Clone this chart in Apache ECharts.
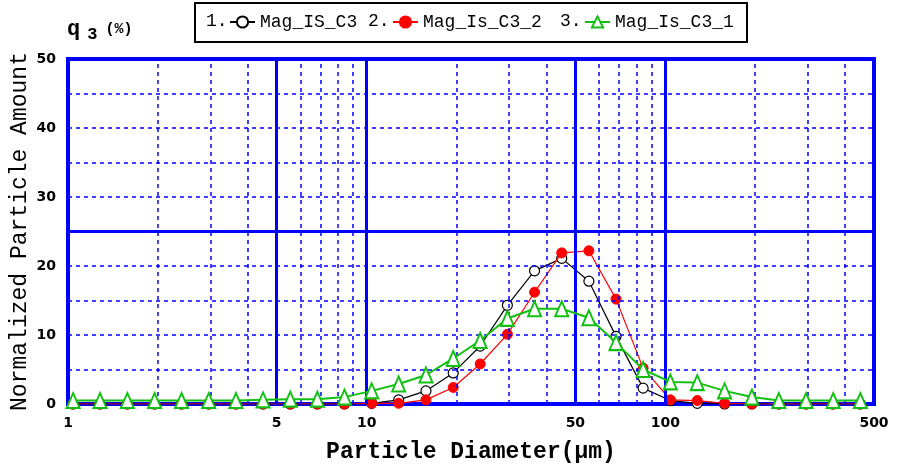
<!DOCTYPE html>
<html><head><meta charset="utf-8">
<script src="https://cdn.jsdelivr.net/npm/echarts@6/dist/echarts.min.js"></script>
<style>html,body{margin:0;padding:0;background:#fff}#c{width:899px;height:470px}</style>
</head><body><div id="c"></div>
<script>
// Particle diameter classes (µm)
const diameters = [1.04,1.28,1.58,1.95,2.40,2.96,3.65,4.50,5.55,6.84,8.43,10.4,12.8,15.8,19.5,24.0,29.6,36.5,45.0,55.5,68.4,84.3,104,128,158,195,240,296,365,450];
// Normalized particle amount q3 (%)
const magIS_C3   = [0,0,0,0,0,0,0,0,0,0,0,0.1,0.6,1.9,4.5,8.4,14.3,19.3,21.1,17.8,9.8,2.3,0.5,0.1,0,0,0,0,0,0];
const magIs_C3_2 = [0,0,0,0,0,0,0,0,0,0,0,0.1,0.1,0.6,2.4,5.8,10.1,16.2,21.9,22.2,15.2,5.2,0.6,0.5,0.1,0,0,0,0,0];
const magIs_C3_1 = [0.5,0.5,0.5,0.5,0.5,0.5,0.5,0.6,0.7,0.7,1.0,1.9,2.9,4.2,6.6,9.2,12.4,13.8,13.8,12.5,8.9,5.0,3.2,3.1,1.9,1.0,0.5,0.5,0.5,0.5];
const seriesNames = ['Mag_IS_C3','Mag_Is_C3_2','Mag_Is_C3_1'];
const xTickLabels = [1,5,10,50,100,500];
const xMajorGrid = [5,10,50,100];
const xMinorGrid = [2,3,4,6,7,8,9,20,30,40,60,70,80,90,200,300,400];
const yMajorGrid = [25];
const yMinorGrid = [5,10,15,20,30,35,40,45];

const pair = arr => arr.map((v,i)=>[diameters[i], v]);
const BLUE = '#0000ff';
const mono = 'Liberation Mono';

const gridLines = [];
xMinorGrid.forEach(v=>gridLines.push({xAxis:v, lineStyle:{type:[4,4],width:1.5,color:BLUE}}));
yMinorGrid.forEach(v=>gridLines.push({yAxis:v, lineStyle:{type:[4,4],width:1.5,color:BLUE}}));
xMajorGrid.forEach(v=>gridLines.push({xAxis:v, lineStyle:{type:'solid',width:3,color:BLUE}}));
yMajorGrid.forEach(v=>gridLines.push({yAxis:v, lineStyle:{type:'solid',width:3,color:BLUE}}));

const chart = echarts.init(document.getElementById('c'), null, {renderer:'canvas'});
const legendBase = {
  orient:'horizontal', top:12, padding:0, itemWidth:25, itemHeight:14, itemGap:0,
  textStyle:{fontFamily:mono, fontSize:18, color:'#000', lineHeight:20}
};
chart.setOption({
  animation:false,
  backgroundColor:'#fff',
  grid:{left:68, right:25, top:59, bottom:66, containLabel:false, outerBoundsMode:'none',
        show:true, borderColor:BLUE, borderWidth:4, backgroundColor:'#fff'},
  legend:[
    Object.assign({}, legendBase, {left:229, data:[seriesNames[0]]}),
    Object.assign({}, legendBase, {left:392, data:[seriesNames[1]]}),
    Object.assign({}, legendBase, {left:584, data:[seriesNames[2]]})
  ],
  graphic:[
    {type:'rect', z:-1, shape:{x:195,y:3,width:552,height:39}, style:{fill:'#fff', stroke:'#000', lineWidth:2}},
    {type:'text', left:206, top:12, style:{text:'1.', font:'18px "Liberation Mono"', fill:'#000'}},
    {type:'text', left:368, top:12, style:{text:'2.', font:'18px "Liberation Mono"', fill:'#000'}},
    {type:'text', left:560, top:12, style:{text:'3.', font:'18px "Liberation Mono"', fill:'#000'}},
    {type:'text', left:67, top:18, style:{
      text:'{q|q}{s|3}{p|(%)}',
      rich:{
        q:{font:'bold 22px "Liberation Mono"', fill:'#000'},
        s:{font:'bold 17px "Liberation Mono"', fill:'#000', padding:[12,0,0,7]},
        p:{font:'bold 15px "Liberation Mono"', fill:'#000', padding:[0,0,0,8]}
      }}}
  ],
  xAxis:{
    type:'log', logBase:10, min:1, max:500,
    name:'Particle Diameter(µm)', nameLocation:'middle', nameGap:37,
    nameTextStyle:{fontFamily:mono, fontWeight:'bold', fontSize:23, color:'#000'},
    axisLine:{show:false}, axisTick:{show:false}, splitLine:{show:false},
    axisLabel:{customValues:xTickLabels, margin:12, fontFamily:'DejaVu Sans', fontWeight:'bold', fontSize:14, color:'#000'}
  },
  yAxis:{
    type:'value', min:0, max:50, interval:10,
    name:'Normalized Particle Amount', nameLocation:'middle', nameGap:37, nameRotate:90,
    nameMoveOverlap:false,
    nameTextStyle:{fontFamily:mono, fontSize:23, color:'#000'},
    axisLine:{show:false}, axisTick:{show:false}, splitLine:{show:false},
    axisLabel:{margin:12, fontFamily:'DejaVu Sans', fontWeight:'bold', fontSize:14, color:'#000'}
  },
  series:[
    {type:'line', name:'_grid', data:[], silent:true, z:1,
     markLine:{silent:true, symbol:'none', label:{show:false}, animation:false, data:gridLines}},
    {type:'line', name:seriesNames[0], data:pair(magIS_C3), z:3,
     lineStyle:{color:'#000', width:1.2}, itemStyle:{color:'#fff', borderColor:'#000', borderWidth:1.2},
     symbol:'circle', symbolSize:10, showAllSymbol:true},
    {type:'line', name:seriesNames[1], data:pair(magIs_C3_2), z:4,
     lineStyle:{color:'#ff0000', width:1.2}, itemStyle:{color:'#ff0000', borderColor:'#ff0000', borderWidth:1},
     symbol:'circle', symbolSize:10, showAllSymbol:true},
    {type:'line', name:seriesNames[2], data:pair(magIs_C3_1), z:5,
     lineStyle:{color:'#12c012', width:2}, itemStyle:{color:'#fff', borderColor:'#12c012', borderWidth:2},
     symbol:'triangle', symbolSize:[13,15], showAllSymbol:true}
  ]
});
</script></body></html>
